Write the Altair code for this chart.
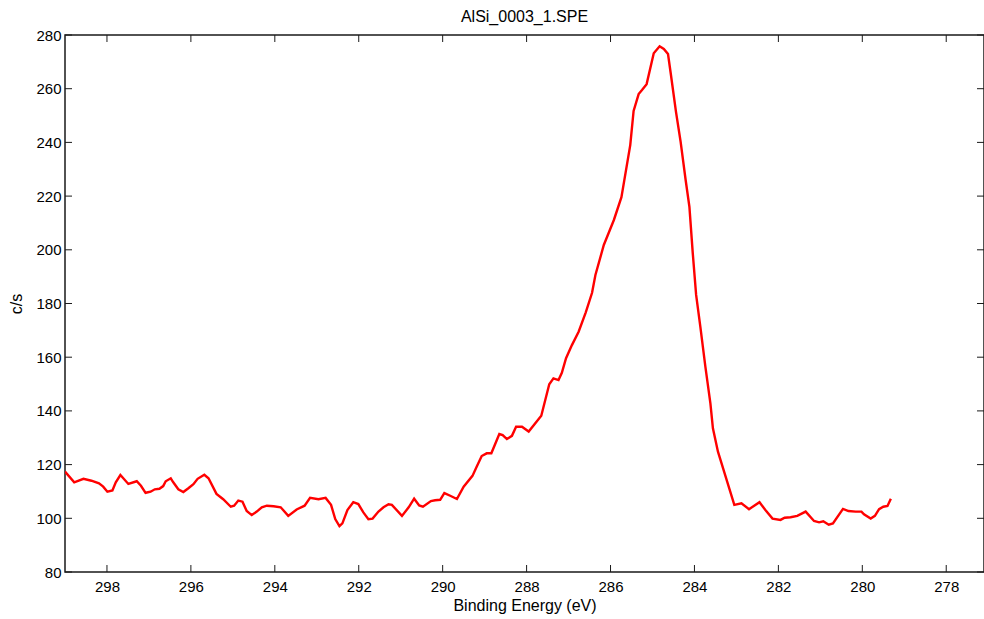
import altair as alt
import pandas as pd

# XPS spectrum: binding energy (eV) and count rate (c/s)
energy = [
    299.00, 298.78, 298.56, 298.37, 298.19, 298.09, 297.99, 297.87, 297.79, 297.68,
    297.49, 297.29, 297.19, 297.08, 296.96, 296.86, 296.75, 296.66, 296.60, 296.48,
    296.42, 296.30, 296.18, 296.06, 295.94, 295.84, 295.68, 295.58, 295.39, 295.23,
    295.05, 294.97, 294.87, 294.77, 294.67, 294.55, 294.43, 294.31, 294.19, 294.03,
    293.86, 293.68, 293.48, 293.29, 293.16, 292.96, 292.79, 292.66, 292.56, 292.46,
    292.39, 292.27, 292.13, 292.01, 291.89, 291.77, 291.67, 291.53, 291.41, 291.29,
    291.21, 290.97, 290.81, 290.68, 290.56, 290.47, 290.28, 290.18, 290.06, 289.96,
    289.82, 289.66, 289.50, 289.29, 289.19, 289.07, 288.95, 288.84, 288.65, 288.57,
    288.47, 288.35, 288.25, 288.11, 287.95, 287.65, 287.46, 287.36, 287.24, 287.16,
    287.06, 286.92, 286.76, 286.59, 286.44, 286.36, 286.16, 285.92, 285.74, 285.53,
    285.45, 285.33, 285.25, 285.14, 284.97, 284.83, 284.73, 284.63, 284.56, 284.44,
    284.33, 284.21, 284.12, 284.04, 283.96, 283.86, 283.74, 283.62, 283.56, 283.44,
    283.05, 282.88, 282.70, 282.45, 282.31, 282.14, 281.95, 281.85, 281.71, 281.55,
    281.35, 281.15, 281.03, 280.93, 280.80, 280.70, 280.46, 280.33, 280.16, 280.02,
    279.96, 279.80, 279.70, 279.60, 279.50, 279.40, 279.32,
]
counts = [
    117.4, 113.4, 114.7, 114.0, 113.0, 111.8, 109.9, 110.4, 113.4, 116.1,
    112.8, 113.8, 112.1, 109.5, 109.9, 110.8, 111.0, 112.0, 113.8, 114.9,
    113.4, 110.8, 109.8, 111.2, 112.7, 114.7, 116.2, 114.9, 109.1, 107.1,
    104.3, 104.7, 106.6, 106.2, 102.7, 101.2, 102.5, 104.1, 104.7, 104.5,
    104.1, 100.9, 103.3, 104.7, 107.6, 107.1, 107.6, 105.0, 99.7, 97.1,
    98.1, 103.1, 106.0, 105.3, 102.2, 99.7, 99.9, 102.5, 104.1, 105.2,
    105.0, 100.9, 104.1, 107.3, 104.8, 104.3, 106.4, 106.7, 106.9, 109.4,
    108.4, 107.2, 111.8, 115.8, 119.2, 123.2, 124.2, 124.2, 131.4, 131.0,
    129.5, 130.7, 134.1, 134.1, 132.3, 138.2, 149.9, 152.1, 151.5, 154.2,
    159.6, 164.5, 169.5, 176.7, 184.0, 190.6, 201.8, 211.1, 219.6, 239.0,
    251.7, 258.0, 259.5, 261.7, 273.2, 275.8, 274.8, 272.9, 265.1, 251.4,
    240.3, 226.0, 216.0, 198.7, 183.2, 171.4, 156.5, 142.8, 133.5, 124.8,
    105.0, 105.6, 103.4, 106.0, 103.1, 99.9, 99.4, 100.2, 100.4, 100.9,
    102.5, 99.0, 98.5, 98.9, 97.6, 98.1, 103.5, 102.7, 102.5, 102.5,
    101.5, 99.9, 100.9, 103.4, 104.3, 104.6, 107.3,
]

x_ticks = [298, 296, 294, 292, 290, 288, 286, 284, 282, 280, 278]
y_ticks = [80, 100, 120, 140, 160, 180, 200, 220, 240, 260, 280]

W, H = 919, 537
FONT = "Liberation Sans"
TICK_LEN = 7
INK = "#1a1a1a"

spectrum = pd.DataFrame({"energy": energy, "counts": counts})
xt = pd.DataFrame({"energy": x_ticks})
yt = pd.DataFrame({"counts": y_ticks})

xscale = alt.Scale(domain=[277.1, 299], reverse=True, nice=False, zero=False)
yscale = alt.Scale(domain=[80, 280], nice=False, zero=False)

x_axis = alt.Axis(title="Binding Energy (eV)", values=x_ticks, format="d",
                  tickSize=0, domain=False, grid=False, labelPadding=7, titlePadding=3)
y_axis = alt.Axis(title="c/s", values=y_ticks, format="d",
                  tickSize=0, domain=False, grid=False, labelPadding=4, titlePadding=11)

X = alt.X("energy:Q", scale=xscale, axis=x_axis)
Y = alt.Y("counts:Q", scale=yscale, axis=y_axis)

line = alt.Chart(spectrum).mark_line(color="#ff0000", strokeWidth=2.4, clip=True).encode(
    x=X, y=Y)

# inward-pointing tick marks on all four sides of the box
tick_style = dict(color=INK, strokeWidth=1)
bottom_ticks = alt.Chart(xt).mark_rule(**tick_style).encode(
    x=X, y=alt.value(H), y2=alt.value(H - TICK_LEN))
top_ticks = alt.Chart(xt).mark_rule(**tick_style).encode(
    x=X, y=alt.value(0), y2=alt.value(TICK_LEN))
left_ticks = alt.Chart(yt).mark_rule(**tick_style).encode(
    y=Y, x=alt.value(0), x2=alt.value(TICK_LEN))
right_ticks = alt.Chart(yt).mark_rule(**tick_style).encode(
    y=Y, x=alt.value(W), x2=alt.value(W - TICK_LEN))

chart = alt.layer(line, bottom_ticks, top_ticks, left_ticks, right_ticks).properties(
    width=W,
    height=H,
    title=alt.TitleParams("AlSi_0003_1.SPE", font=FONT, fontSize=16, fontWeight="normal",
                          color="black", offset=3),
    autosize=alt.AutoSizeParams(type="none"),
    padding={"left": 65, "top": 35, "right": 0, "bottom": 47},
    background="white",
).configure_view(
    stroke=INK, strokeWidth=1.5
).configure_axis(
    labelFont=FONT, titleFont=FONT, labelFontSize=15, titleFontSize=16,
    labelColor="black", titleColor="black", titleFontWeight="normal",
)

chart.save("out.html", embed_options={"renderer": "svg", "actions": False})
